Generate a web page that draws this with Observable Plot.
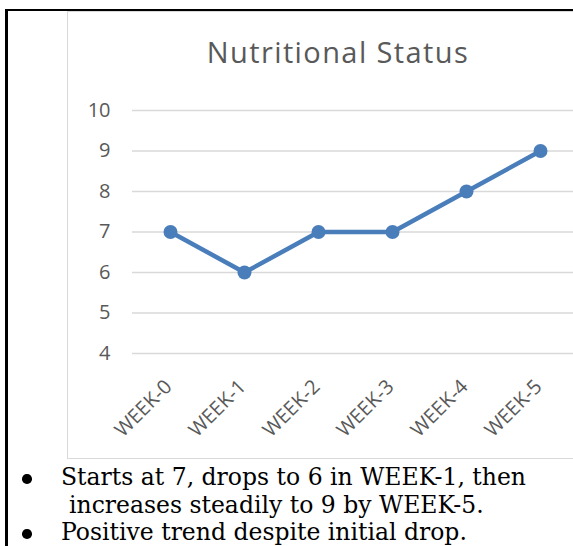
<!DOCTYPE html>
<html>
<head>
<meta charset="utf-8">
<script src="https://cdn.jsdelivr.net/npm/d3@7"></script>
<script src="https://cdn.jsdelivr.net/npm/@observablehq/plot@0.6"></script>
<style>
  html, body { margin: 0; padding: 0; background: #fff; overflow: hidden; }
  #page { position: relative; width: 573px; height: 546px; overflow: hidden; }
  #outer { position: absolute; left: 5px; top: 9px; width: 700px; height: 700px;
           border-left: 3px solid #000; border-top: 2px solid #000; }
  #box { position: absolute; left: 67px; top: 11px; width: 600px; height: 446px;
         border: 1.5px solid #d9d9d9; }
  #title { position: absolute; left: 0; width: 676px; top: 37px; text-align: center;
           font-family: "Open Sans", sans-serif; font-size: 29px; line-height: 29px;
           letter-spacing: 1.4px; color: #595959; white-space: nowrap; }
  #chart { position: absolute; left: 0; top: 0; }
  #notes { position: absolute; left: 0; top: 464px; width: 573px;
           font-family: "DejaVu Serif", serif; font-size: 23.5px; line-height: 27.5px; color: #000; }
  .li { position: relative; padding-left: 61px; white-space: nowrap; height: 27.5px; }
  .li .b { position: absolute; left: 22px; top: 10px; width: 9.5px; height: 9.5px;
           border-radius: 50%; background: #000; }
  .cont { padding-left: 69px; white-space: nowrap; height: 27.5px; }
</style>
</head>
<body>
<div id="page">
  <div id="outer"></div>
  <div id="box"></div>
  <div id="title"></div>
  <div id="chart"></div>
  <div id="notes"></div>
</div>
<script>
const titleText = "Nutritional Status";
const weeks = ["WEEK-0", "WEEK-1", "WEEK-2", "WEEK-3", "WEEK-4", "WEEK-5"];
const values = [7, 6, 7, 7, 8, 9];
const yTicks = [4, 5, 6, 7, 8, 9, 10];
const notes = [
  ["Starts at 7, drops to 6 in WEEK-1, then", "increases steadily to 9 by WEEK-5."],
  ["Positive trend despite initial drop."]
];

const data = weeks.map((w, i) => ({week: w, value: values[i]}));
const blue = "#4a7ebb";
const grey = "#595959";

document.getElementById("title").textContent = titleText;

const chart = Plot.plot({
  width: 573,
  height: 460,
  marginLeft: 132,
  marginRight: 0,
  marginTop: 100,
  marginBottom: 107,
  style: {fontFamily: "Open Sans, sans-serif", background: "transparent", overflow: "visible"},
  x: {type: "point", domain: weeks, range: [169, 541], padding: 0, axis: null},
  y: {domain: [4, 10], range: [353, 110], axis: null},
  marks: [
    Plot.ruleY(yTicks, {stroke: "#d9d9d9", strokeWidth: 1.5}),
    Plot.axisY({ticks: yTicks, tickFormat: "d", tickSize: 0, tickPadding: 22, fontSize: 20, fill: grey, label: null}),
    Plot.text(weeks, {x: d => d, frameAnchor: "bottom", dy: 30, dx: -2, rotate: -45,
      textAnchor: "end", lineAnchor: "middle", fontSize: 20, fill: grey}),
    Plot.line(data, {x: "week", y: "value", stroke: blue, strokeWidth: 4.5}),
    Plot.dot(data, {x: "week", y: "value", r: 7, fill: blue})
  ]
});
document.getElementById("chart").appendChild(chart);

const notesEl = document.getElementById("notes");
notes.forEach(lines => {
  const li = document.createElement("div");
  li.className = "li";
  const b = document.createElement("span");
  b.className = "b";
  li.appendChild(b);
  li.appendChild(document.createTextNode(lines[0]));
  notesEl.appendChild(li);
  lines.slice(1).forEach(t => {
    const c = document.createElement("div");
    c.className = "cont";
    c.textContent = t;
    notesEl.appendChild(c);
  });
});
</script>
</body>
</html>
